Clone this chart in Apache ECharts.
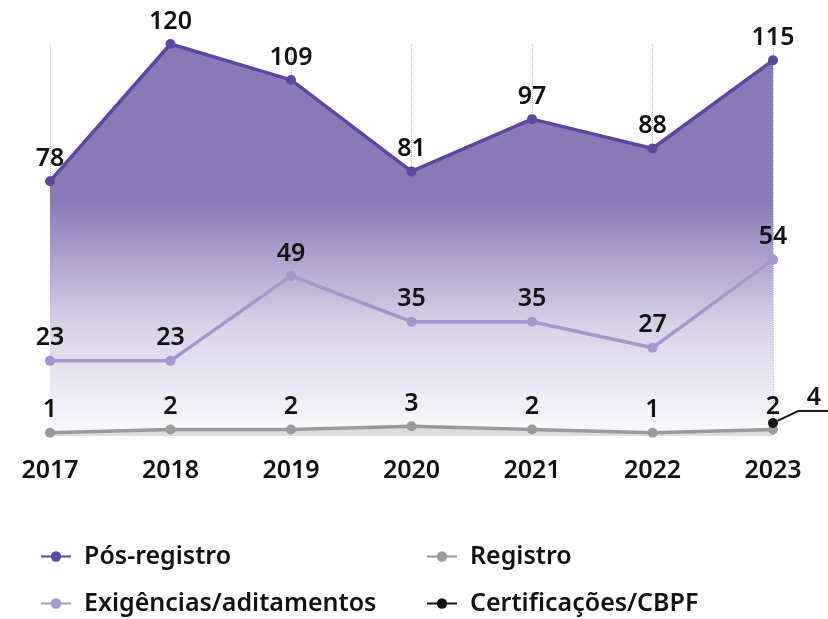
<!DOCTYPE html>
<html><head><meta charset="utf-8">
<script src="https://cdn.jsdelivr.net/npm/echarts@6/dist/echarts.min.js"></script>
<style>html,body{margin:0;padding:0;background:#fff}#c{width:828px;height:619px}</style>
</head><body><div id="c"></div>
<script>
const years = ['2017','2018','2019','2020','2021','2022','2023'];
const posRegistro = [78,120,109,81,97,88,115];
const exigencias = [23,23,49,35,35,27,54];
const registro = [1,2,2,3,2,1,2];
const certificacoes = [null,null,null,null,null,null,4];

const FONT = '"Noto Sans", "Open Sans", sans-serif';
const chart = echarts.init(document.getElementById('c'));
const lbl = {show:true, position:'top', fontSize:25, fontWeight:600, color:'#111', fontFamily:FONT, distance:5};
const legTxt = {fontSize:25, fontWeight:600, color:'#111', fontFamily:FONT, padding:[0,0,0,8]};
chart.setOption({
  animation:false,
  grid:{left:50, right:55, top:44, bottom:183},
  xAxis:{type:'category', data:years, boundaryGap:false,
    axisLine:{show:false}, axisTick:{show:false},
    axisLabel:{fontSize:25, fontWeight:600, color:'#111', fontFamily:FONT, margin:22},
    splitLine:{show:true, lineStyle:{type:'dotted', color:'#bbb', width:1}}},
  yAxis:{type:'value', min:0, max:120, show:false, splitLine:{show:false}},
  legend:[
    {data:['Pós-registro','Exigências/aditamentos'], orient:'vertical', left:40, top:544, itemGap:22, padding:0, height:200,
     itemWidth:30, itemHeight:13, textStyle:legTxt},
    {data:['Registro','Certificações/CBPF'], orient:'vertical', left:426, top:544, itemGap:22, padding:0, height:200,
     itemWidth:30, itemHeight:13, textStyle:legTxt}
  ],
  series:[
    {name:'Pós-registro', type:'line', data:posRegistro, symbol:'circle', symbolSize:10,
     itemStyle:{color:'#5c46a0'}, lineStyle:{width:3.5, color:'#5c46a0'}, label:lbl,
     areaStyle:{opacity:1, color:new echarts.graphic.LinearGradient(0,0,0,1,[
       {offset:0,color:'#8b78b7'},
       {offset:0.4,color:'#8b78b7'},
       {offset:0.72,color:'#d8d2e8'},
       {offset:1,color:'#fbfbfd'}])}, z:2},
    {name:'Exigências/aditamentos', type:'line', data:exigencias, symbol:'circle', symbolSize:10,
     itemStyle:{color:'#a596cc'}, lineStyle:{width:3.5, color:'#a596cc'}, label:lbl, z:3},
    {name:'Registro', type:'line', data:registro, symbol:'circle', symbolSize:10,
     itemStyle:{color:'#9a9a9a'}, lineStyle:{width:3.5, color:'#9a9a9a'}, label:lbl,
     areaStyle:{opacity:1, color:'rgba(170,170,170,0.35)'}, z:4},
    {name:'Certificações/CBPF', type:'line', data:certificacoes, symbol:'circle', symbolSize:10,
     itemStyle:{color:'#111'}, lineStyle:{width:3.5, color:'#111'},
     label:{show:true, position:'right', distance:4, padding:[0,0,24,0], backgroundColor:'rgba(255,255,255,0)', formatter:'{a|{c}}\n{u|}',
       rich:{a:{fontSize:25, fontWeight:600, color:'#111', fontFamily:FONT, width:30, align:'center', lineHeight:24},
             u:{width:30, height:2, backgroundColor:'#111', lineHeight:2}}},
     labelLayout:{dx:17, dy:-12},
     labelLine:{show:true, length2:0, lineStyle:{color:'#111', width:2}}, z:5}
  ]
});
</script></body></html>
